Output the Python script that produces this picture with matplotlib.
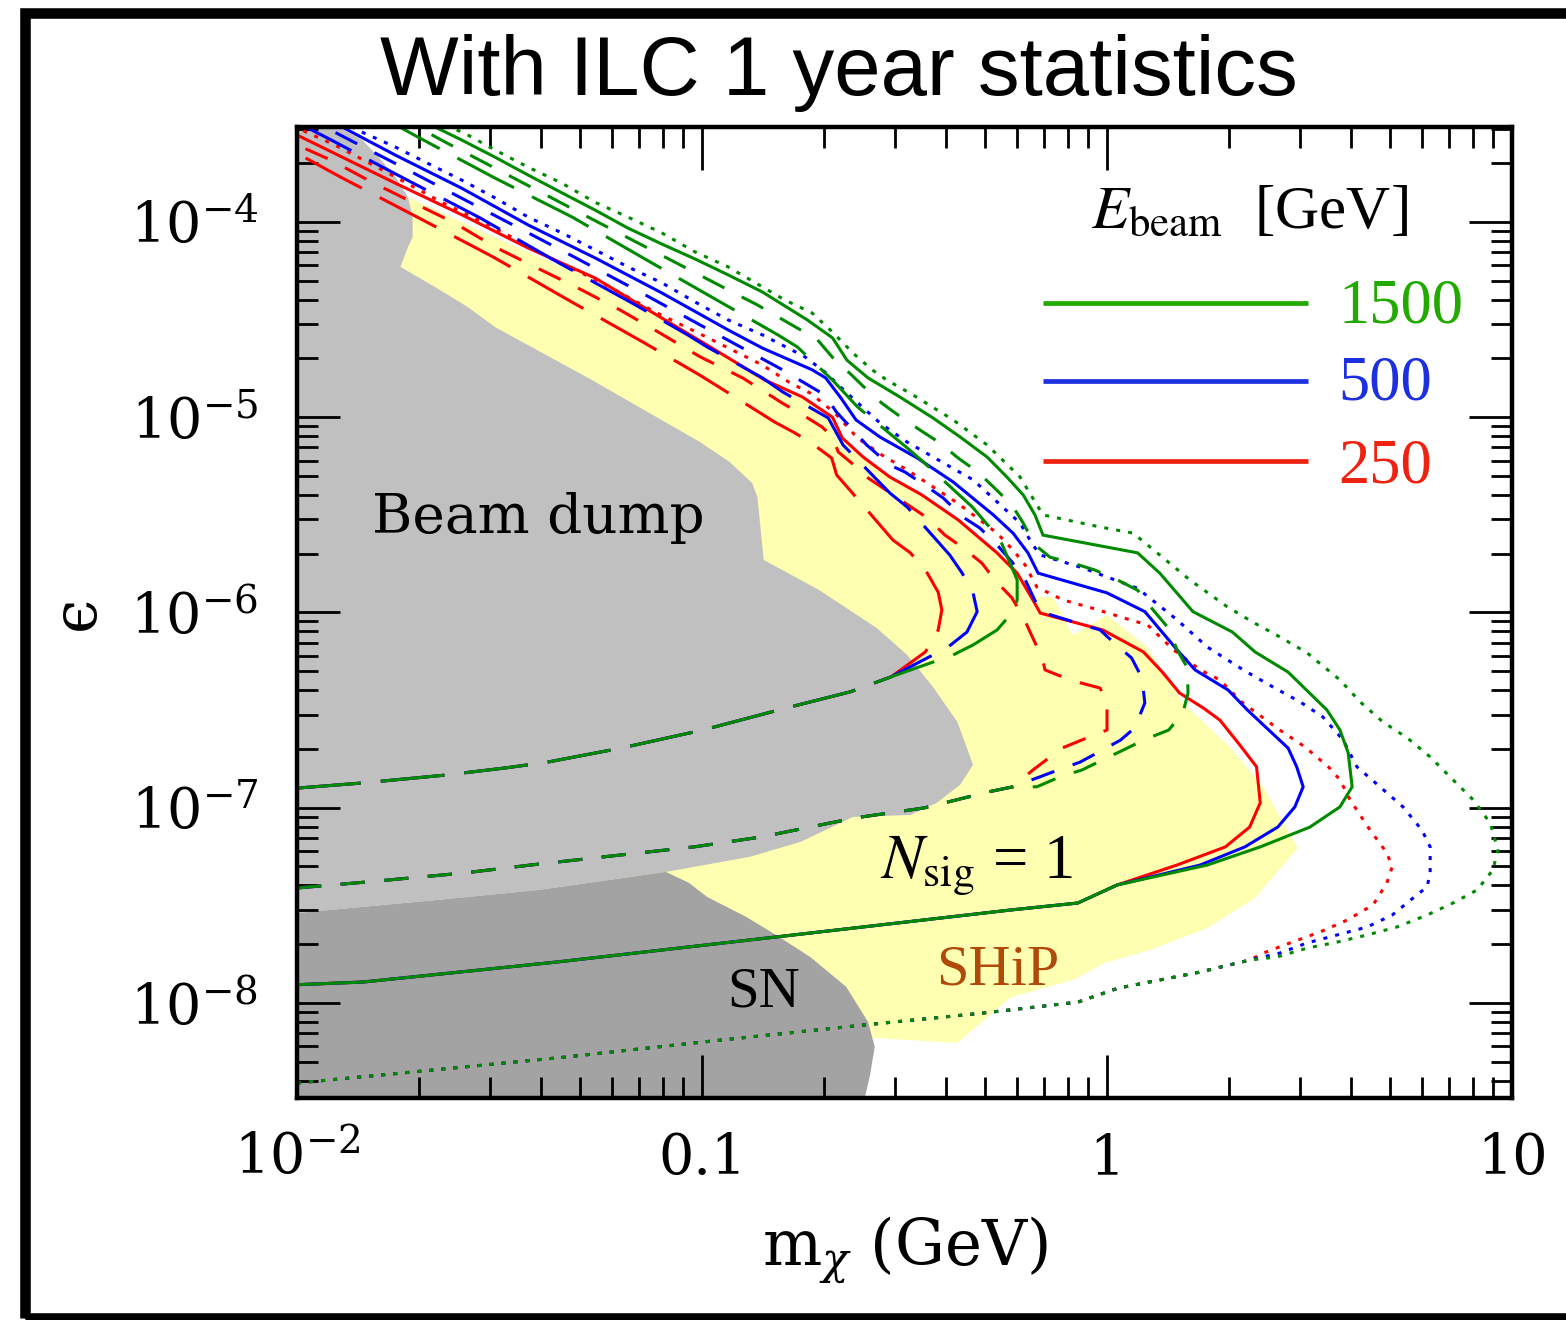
import matplotlib
matplotlib.use("Agg")
import matplotlib.pyplot as plt
from matplotlib.patches import Polygon, Rectangle
from matplotlib.ticker import FixedLocator, FixedFormatter, LogLocator, NullFormatter

plt.rcParams['font.family'] = 'DejaVu Serif'
plt.rcParams['mathtext.fontset'] = 'dejavuserif'
plt.rcParams['lines.scale_dashes'] = False

# ---- excluded regions (m in GeV, epsilon) ----
beam_dump_m = [0.0126, 0.0145, 0.0159, 0.0175, 0.0188, 0.0193, 0.0193, 0.0188, 0.0180, 0.0219,
               0.0264, 0.0308, 0.0535, 0.0989, 0.117, 0.133, 0.137, 0.142, 0.195, 0.270,
               0.321, 0.372, 0.427, 0.467, 0.434, 0.380, 0.327, 0.236, 0.175, 0.131,
               0.0815, 0.0394, 0.0222, 0.0100]
beam_dump_eps = [3.07e-4, 2.63e-4, 2.15e-4, 1.70e-4, 1.34e-4, 1.06e-4, 8.38e-5, 7.45e-5, 5.89e-5, 4.65e-5,
                 3.67e-5, 2.90e-5, 1.55e-5, 7.46e-6, 5.90e-6, 4.60e-6, 3.91e-6, 1.86e-6, 1.30e-6, 8.33e-7,
                 6.06e-7, 4.15e-7, 2.75e-7, 1.66e-7, 1.31e-7, 1.06e-7, 9.18e-8, 8.97e-8, 6.68e-8, 5.60e-8,
                 4.69e-8, 3.79e-8, 3.37e-8, 2.89e-8]

sn_m = [0.0100, 0.0222, 0.0394, 0.0815, 0.0929, 0.103, 0.129, 0.155, 0.185, 0.227, 0.257, 0.267, 0.260, 0.250]
sn_eps = [2.89e-8, 3.37e-8, 3.79e-8, 4.69e-8, 4.12e-8, 3.49e-8, 2.75e-8, 2.18e-8, 1.72e-8, 1.21e-8,
          8.00e-9, 5.96e-9, 4.28e-9, 3.0e-9]

ship_m = [0.0185, 0.0255, 0.0372, 0.0545, 0.0796, 0.103, 0.143, 0.177, 0.210, 0.222,
          0.250, 0.291, 0.349, 0.429, 0.535, 0.610, 0.656, 0.736, 0.824, 1.00,
          1.256, 1.54, 2.01, 2.43, 2.96, 2.32, 1.77, 1.277, 0.984, 0.824,
          0.579, 0.427, 0.263, 0.232, 0.0815, 0.0560, 0.0317, 0.0170]
ship_eps = [1.37e-4, 1.00e-4, 7.02e-5, 5.05e-5, 3.22e-5, 2.29e-5, 1.52e-5, 1.24e-5, 9.80e-6, 7.64e-6,
            6.11e-6, 4.83e-6, 3.91e-6, 2.91e-6, 2.04e-6, 1.59e-6, 1.20e-6, 1.20e-6, 7.67e-7, 9.71e-7,
            6.65e-7, 3.44e-7, 2.05e-7, 1.28e-7, 6.22e-8, 3.45e-8, 2.42e-8, 1.87e-8, 1.60e-8, 1.31e-8,
            1.07e-8, 6.24e-9, 6.62e-9, 1.02e-8, 3.79e-8, 4.80e-8, 3.75e-6, 7.19e-5]

# ---- N_sig = 1 contours ----
# lower edges are common to the three beam energies, the rest splits by energy
dot_low_m = [0.0100, 0.0195, 0.0459, 0.1005, 0.251, 0.497, 0.847, 1.064, 1.698, 2.254]
dot_low_eps = [3.89e-9, 4.44e-9, 5.28e-9, 6.31e-9, 7.71e-9, 8.89e-9, 1.01e-8, 1.19e-8, 1.44e-8, 1.66e-8]

red_dot_m = [2.43, 2.83, 3.36, 3.92, 4.54, 4.91, 5.06, 4.91, 4.65, 4.41,
             3.98, 3.76, 3.52, 3.08, 2.67, 2.15, 1.90, 1.70, 1.46, 1.26,
             1.10, 0.923, 0.778, 0.671, 0.628, 0.586, 0.535, 0.478, 0.427, 0.372,
             0.321, 0.278, 0.242, 0.213, 0.185, 0.165, 0.141, 0.1035, 0.0766, 0.0566,
             0.0417, 0.0308, 0.0228, 0.0168, 0.0124, 0.0100]
red_dot_eps = [1.80e-8, 2.03e-8, 2.31e-8, 2.66e-8, 3.18e-8, 4.12e-8, 4.98e-8, 5.86e-8, 6.84e-8, 7.96e-8,
               1.10e-7, 1.39e-7, 1.62e-7, 2.05e-7, 2.50e-7, 3.48e-7, 4.51e-7, 5.08e-7, 6.43e-7, 8.63e-7,
               9.38e-7, 1.05e-6, 1.16e-6, 1.35e-6, 1.75e-6, 2.09e-6, 2.55e-6, 3.05e-6, 3.64e-6, 4.40e-6,
               5.37e-6, 6.41e-6, 7.83e-6, 1.05e-5, 1.33e-5, 1.50e-5, 1.85e-5, 2.55e-5, 3.46e-5, 4.88e-5,
               6.62e-5, 9.31e-5, 1.26e-4, 1.78e-4, 2.48e-4, 3.03e-4]

blue_dot_m = [2.67, 3.12, 3.70, 4.39, 5.06, 5.70, 6.17, 6.28, 6.28, 5.99,
              5.38, 4.72, 4.14, 3.83, 3.41, 3.00, 2.57, 2.17, 1.77, 1.49,
              1.19, 1.00, 0.873, 0.684, 0.656, 0.610, 0.545, 0.467, 0.403, 0.321,
              0.275, 0.228, 0.202, 0.1795, 0.141, 0.116, 0.0962, 0.0796, 0.0656, 0.0545,
              0.0451, 0.0372, 0.0308, 0.0255, 0.0210, 0.0175, 0.01445, 0.01368]
blue_dot_eps = [1.80e-8, 2.03e-8, 2.23e-8, 2.45e-8, 2.82e-8, 3.45e-8, 3.93e-8, 4.63e-8, 6.30e-8, 7.69e-8,
                1.01e-7, 1.28e-7, 1.62e-7, 2.22e-7, 2.92e-7, 3.48e-7, 4.15e-7, 5.08e-7, 6.65e-7, 9.16e-7,
                1.33e-6, 1.52e-6, 1.69e-6, 1.97e-6, 2.22e-6, 2.87e-6, 3.56e-6, 4.78e-6, 5.69e-6, 7.46e-6,
                9.35e-6, 1.33e-5, 1.69e-5, 2.04e-5, 2.64e-5, 3.15e-5, 3.89e-5, 4.88e-5, 5.89e-5, 7.19e-5,
                8.79e-5, 1.06e-4, 1.33e-4, 1.64e-4, 2.00e-4, 2.42e-4, 2.89e-4, 3.07e-4]

green_dot_m = [2.63, 3.12, 3.70, 4.39, 5.20, 6.17, 7.15, 8.20, 8.97, 9.23,
               8.83, 8.01, 7.15, 6.28, 5.51, 4.80, 4.22, 3.76, 3.12, 2.67,
               2.29, 1.98, 1.60, 1.33, 1.16, 0.962, 0.695, 0.671, 0.610, 0.506,
               0.417, 0.332, 0.286, 0.263, 0.236, 0.210, 0.187, 0.160, 0.141, 0.116,
               0.0962, 0.0796, 0.0656, 0.0545, 0.0451, 0.0372, 0.0308, 0.0264, 0.0239]
green_dot_eps = [1.72e-8, 1.91e-8, 2.05e-8, 2.23e-8, 2.45e-8, 2.82e-8, 3.25e-8, 3.79e-8, 4.80e-8, 6.08e-8,
                 8.36e-8, 1.10e-7, 1.39e-7, 1.82e-7, 2.28e-7, 2.75e-7, 3.48e-7, 4.51e-7, 6.21e-7, 7.50e-7,
                 8.93e-7, 1.07e-6, 1.47e-6, 2.02e-6, 2.55e-6, 2.74e-6, 3.16e-6, 3.56e-6, 4.94e-6, 7.21e-6,
                 9.69e-6, 1.30e-5, 1.55e-5, 1.75e-5, 2.13e-5, 2.73e-5, 3.42e-5, 3.99e-5, 4.65e-5, 5.89e-5,
                 7.02e-5, 8.79e-5, 1.06e-4, 1.26e-4, 1.58e-4, 1.91e-4, 2.34e-4, 2.79e-4, 3.07e-4]

solid_low_m = [0.0100, 0.01456, 0.0437, 0.153, 0.575, 0.847, 1.059]
solid_low_eps = [1.24e-8, 1.28e-8, 1.62e-8, 2.18e-8, 2.99e-8, 3.25e-8, 4.02e-8]

red_solid_m = [1.49, 1.96, 2.25, 2.39, 2.34, 2.13, 1.90, 1.73, 1.51, 1.37,
               1.23, 0.977, 0.684, 0.656, 0.600, 0.535, 0.429, 0.349, 0.291, 0.250,
               0.222, 0.210, 0.177, 0.143, 0.103, 0.0796, 0.0545, 0.0372, 0.0255, 0.0175, 0.0100]
red_solid_eps = [5.09e-8, 6.30e-8, 7.96e-8, 1.06e-7, 1.62e-7, 2.09e-7, 2.81e-7, 3.24e-7, 3.87e-7, 4.95e-7,
                 6.28e-7, 8.13e-7, 9.93e-7, 1.16e-6, 1.59e-6, 2.02e-6, 2.98e-6, 4.00e-6, 4.94e-6, 6.25e-6,
                 7.83e-6, 1.00e-5, 1.27e-5, 1.55e-5, 2.34e-5, 3.22e-5, 5.16e-5, 7.36e-5, 1.09e-4, 1.58e-4, 2.79e-4]

blue_solid_m = [1.70, 2.19, 2.64, 2.91, 3.05, 2.94, 2.80, 2.22, 1.99, 1.65,
                1.49, 1.24, 1.00, 0.676, 0.638, 0.586, 0.524, 0.417, 0.340, 0.275,
                0.240, 0.220, 0.202, 0.187, 0.141, 0.116, 0.0796, 0.0545, 0.0372, 0.0255,
                0.0175, 0.0129]
blue_solid_eps = [5.09e-8, 6.30e-8, 7.96e-8, 1.01e-7, 1.28e-7, 1.62e-7, 2.02e-7, 3.17e-7, 4.01e-7, 5.08e-7,
                  6.43e-7, 1.01e-6, 1.26e-6, 1.59e-6, 2.02e-6, 2.55e-6, 3.16e-6, 4.66e-6, 6.18e-6, 7.92e-6,
                  9.69e-6, 1.26e-5, 1.59e-5, 1.75e-5, 2.26e-5, 2.80e-5, 4.33e-5, 6.54e-5, 9.66e-5, 1.49e-4,
                  2.20e-4, 3.07e-4]

green_solid_m = [1.77, 2.39, 3.17, 3.76, 4.03, 3.94, 3.76, 3.49, 2.80, 2.32,
                 2.04, 1.63, 1.35, 1.19, 0.695, 0.664, 0.621, 0.566, 0.506, 0.434,
                 0.372, 0.308, 0.257, 0.228, 0.210, 0.182, 0.141, 0.116, 0.0962, 0.0796,
                 0.0656, 0.0545, 0.0451, 0.0372, 0.0308, 0.0255, 0.0219]
green_solid_eps = [5.09e-8, 6.30e-8, 7.96e-8, 1.01e-7, 1.28e-7, 1.91e-7, 2.50e-7, 3.17e-7, 4.95e-7, 6.28e-7,
                   7.94e-7, 1.01e-6, 1.59e-6, 2.02e-6, 2.49e-6, 3.16e-6, 4.00e-6, 4.94e-6, 6.25e-6, 7.92e-6,
                   9.91e-6, 1.27e-5, 1.59e-5, 1.96e-5, 2.55e-5, 3.15e-5, 4.38e-5, 5.36e-5, 6.46e-5, 7.71e-5,
                   9.31e-5, 1.15e-4, 1.41e-4, 1.74e-4, 2.15e-4, 2.63e-4, 3.07e-4]

sdash_low_m = [0.0100, 0.01496, 0.0258, 0.0378, 0.0631, 0.0955, 0.140, 0.239, 0.353, 0.514, 0.586]
sdash_low_eps = [3.88e-8, 4.17e-8, 4.63e-8, 5.09e-8, 5.73e-8, 6.30e-8, 7.08e-8, 8.87e-8, 9.97e-8, 1.21e-7, 1.28e-7]

red_sdash_m = [0.656, 0.774, 0.893, 1.00, 1.00, 0.962, 0.843, 0.754, 0.703, 0.692,
               0.656, 0.621, 0.582, 0.528, 0.491, 0.439, 0.398, 0.360, 0.255, 0.234,
               0.217, 0.210, 0.198, 0.177, 0.158, 0.126, 0.0989, 0.0787, 0.0628, 0.0494,
               0.0392, 0.0308, 0.0245, 0.0193, 0.0153, 0.0121, 0.0100]
red_sdash_eps = [1.56e-7, 2.02e-7, 2.28e-7, 2.50e-7, 3.36e-7, 4.10e-7, 4.41e-7, 4.79e-7, 5.08e-7, 5.85e-7,
                 7.40e-7, 9.48e-7, 1.19e-6, 1.47e-6, 1.79e-6, 2.16e-6, 2.49e-6, 3.05e-6, 4.94e-6, 5.83e-6,
                 6.64e-6, 7.92e-6, 8.91e-6, 1.03e-5, 1.18e-5, 1.59e-5, 2.04e-5, 2.70e-5, 3.54e-5, 4.59e-5,
                 5.81e-5, 7.45e-5, 9.88e-5, 1.26e-4, 1.60e-4, 2.08e-4, 2.48e-4]

blue_sdash_m = [0.671, 0.757, 0.857, 0.977, 1.08, 1.17, 1.24, 1.22, 1.15, 1.035,
                0.962, 0.684, 0.628, 0.582, 0.535, 0.485, 0.441, 0.394, 0.360, 0.317,
                0.291, 0.255, 0.236, 0.215, 0.201, 0.177, 0.158, 0.112, 0.0703, 0.0439,
                0.0275, 0.0172, 0.0135, 0.0117]
blue_sdash_eps = [1.42e-7, 1.56e-7, 1.71e-7, 1.98e-7, 2.22e-7, 2.56e-7, 3.44e-7, 4.62e-7, 5.85e-7, 7.06e-7,
                  8.13e-7, 1.01e-6, 1.47e-6, 1.82e-6, 2.22e-6, 2.71e-6, 3.08e-6, 3.86e-6, 4.40e-6, 5.24e-6,
                  5.69e-6, 7.21e-6, 8.61e-6, 1.06e-5, 1.30e-5, 1.52e-5, 1.75e-5, 2.58e-5, 4.38e-5, 7.36e-5,
                  1.22e-4, 2.03e-4, 2.63e-4, 3.07e-4]

green_sdash_m = [0.671, 0.766, 0.867, 0.977, 1.10, 1.23, 1.42, 1.54, 1.585, 1.58,
                 1.49, 1.41, 1.30, 1.19, 1.06, 0.933, 0.824, 0.723, 0.664, 0.621,
                 0.582, 0.524, 0.480, 0.429, 0.387, 0.345, 0.312, 0.278, 0.251, 0.231,
                 0.220, 0.191, 0.172, 0.137, 0.120, 0.0528, 0.0232, 0.0198]
green_sdash_eps = [1.28e-7, 1.44e-7, 1.56e-7, 1.76e-7, 1.98e-7, 2.22e-7, 2.50e-7, 3.06e-7, 3.87e-7, 5.20e-7,
                   6.43e-7, 8.43e-7, 1.03e-6, 1.30e-6, 1.47e-6, 1.65e-6, 1.79e-6, 1.92e-6, 2.22e-6, 2.87e-6,
                   3.56e-6, 4.40e-6, 5.24e-6, 6.18e-6, 7.38e-6, 8.61e-6, 9.91e-6, 1.18e-5, 1.43e-5, 1.69e-5,
                   1.81e-5, 2.55e-5, 2.86e-5, 3.76e-5, 4.33e-5, 1.05e-4, 2.57e-4, 3.07e-4]

ldash_low_m = [0.0100, 0.01456, 0.0233, 0.0328, 0.0414, 0.0631, 0.1005, 0.165, 0.232, 0.293]
ldash_low_eps = [1.26e-7, 1.34e-7, 1.47e-7, 1.60e-7, 1.71e-7, 2.02e-7, 2.50e-7, 3.28e-7, 3.92e-7, 4.68e-7]

red_ldash_m = [0.356, 0.383, 0.391, 0.383, 0.360, 0.327, 0.296, 0.234, 0.215, 0.209,
               0.185, 0.168, 0.151, 0.110, 0.0989, 0.0714, 0.0467, 0.0305, 0.0198, 0.0128, 0.0100]
red_ldash_eps = [6.28e-7, 8.13e-7, 1.03e-6, 1.27e-6, 1.59e-6, 2.02e-6, 2.35e-6, 4.14e-6, 5.06e-6, 6.18e-6,
                 7.46e-6, 8.40e-6, 9.46e-6, 1.43e-5, 1.64e-5, 2.43e-5, 3.99e-5, 6.62e-5, 1.06e-4, 1.70e-4, 2.25e-4]

blue_ldash_m = [0.405, 0.451, 0.478, 0.467, 0.439, 0.409, 0.321, 0.291, 0.223, 0.205,
                0.158, 0.141, 0.103, 0.0922, 0.0671, 0.0439, 0.0283, 0.0183, 0.0119, 0.0105]
blue_ldash_eps = [6.65e-7, 7.94e-7, 1.01e-6, 1.26e-6, 1.59e-6, 1.97e-6, 3.47e-6, 4.09e-6, 7.21e-6, 9.91e-6,
                  1.35e-5, 1.59e-5, 2.29e-5, 2.64e-5, 3.85e-5, 6.24e-5, 1.05e-4, 1.68e-4, 2.69e-4, 3.07e-4]

green_ldash_m = [0.417, 0.467, 0.535, 0.586, 0.600, 0.600, 0.545, 0.500, 0.465, 0.352,
                 0.321, 0.242, 0.210, 0.172, 0.154, 0.112, 0.0731, 0.0478, 0.0308, 0.0199, 0.0179]
green_ldash_eps = [6.06e-7, 6.82e-7, 8.13e-7, 1.01e-6, 1.16e-6, 1.47e-6, 2.35e-6, 2.91e-6, 3.47e-6, 5.90e-6,
                   6.97e-6, 1.13e-5, 1.55e-5, 2.29e-5, 2.64e-5, 3.85e-5, 6.38e-5, 1.06e-4, 1.68e-4, 2.72e-4, 3.07e-4]

beam_energies = ['1500', '500', '250']
x_tick_vals = [0.01, 0.1, 1, 10]
x_tick_labels = [r'$10^{-2}$', '0.1', '1', '10']
y_tick_vals = [1e-8, 1e-7, 1e-6, 1e-5, 1e-4]
y_tick_labels = [r'$10^{-8}$', r'$10^{-7}$', r'$10^{-6}$', r'$10^{-5}$', r'$10^{-4}$']

line_col = {'red': '#ff0000', 'blue': '#0000ff', 'green': '#008a00'}
key_col = {'1500': '#22aa00', '500': '#1c30e0', '250': '#ee2211'}

fig = plt.figure(figsize=(15.66, 13.2), dpi=100)
ax = fig.add_axes([0.18966, 0.16818, 0.77586, 0.73561])
ax.set_xscale('log')
ax.set_yscale('log')
ax.set_xlim(0.01, 10)
ax.set_ylim(3.26e-9, 3.066e-4)

# shaded regions: SHiP below, beam dump and supernova on top
ax.add_patch(Polygon(list(zip(ship_m, ship_eps)), closed=True, fc='#ffffb2', ec='none', zorder=1))
bd = [(0.005, 1e-3), (0.0126, 1e-3)] + list(zip(beam_dump_m, beam_dump_eps)) + [(0.005, 2.89e-8)]
ax.add_patch(Polygon(bd, closed=True, fc='#c0c0c0', ec='none', zorder=1.05))
sn = [(0.005, 2.89e-8)] + list(zip(sn_m, sn_eps)) + [(0.250, 1e-9), (0.005, 1e-9)]
ax.add_patch(Polygon(sn, closed=True, fc='#a3a3a3', ec='none', zorder=1.1))

dotted = (0, (2.9, 5.8))
short_dash = (0, (17.5, 14.0))
long_dash = (0, (46.0, 14.5))

curves = [
    ('red', dot_low_m, dot_low_eps, red_dot_m, red_dot_eps, dotted),
    ('red', solid_low_m, solid_low_eps, red_solid_m, red_solid_eps, '-'),
    ('red', sdash_low_m, sdash_low_eps, red_sdash_m, red_sdash_eps, short_dash),
    ('red', ldash_low_m, ldash_low_eps, red_ldash_m, red_ldash_eps, long_dash),
    ('blue', dot_low_m, dot_low_eps, blue_dot_m, blue_dot_eps, dotted),
    ('blue', solid_low_m, solid_low_eps, blue_solid_m, blue_solid_eps, '-'),
    ('blue', sdash_low_m, sdash_low_eps, blue_sdash_m, blue_sdash_eps, short_dash),
    ('blue', ldash_low_m, ldash_low_eps, blue_ldash_m, blue_ldash_eps, long_dash),
    ('green', dot_low_m, dot_low_eps, green_dot_m, green_dot_eps, dotted),
    ('green', solid_low_m, solid_low_eps, green_solid_m, green_solid_eps, '-'),
    ('green', sdash_low_m, sdash_low_eps, green_sdash_m, green_sdash_eps, short_dash),
    ('green', ldash_low_m, ldash_low_eps, green_ldash_m, green_ldash_eps, long_dash),
]
for col, lm, le, um, ue, ls in curves:
    ax.plot(lm + um, le + ue, color=line_col[col], lw=2.2, linestyle=ls,
            dash_capstyle='butt', solid_joinstyle='miter', zorder=2)

# axes, ticks
for sp in ax.spines.values():
    sp.set_linewidth(3.2)
ax.xaxis.set_major_locator(FixedLocator(x_tick_vals))
ax.xaxis.set_major_formatter(FixedFormatter(x_tick_labels))
ax.yaxis.set_major_locator(FixedLocator(y_tick_vals))
ax.yaxis.set_major_formatter(FixedFormatter(y_tick_labels))
ax.xaxis.set_minor_locator(LogLocator(base=10, subs=range(2, 10), numticks=30))
ax.yaxis.set_minor_locator(LogLocator(base=10, subs=range(2, 10), numticks=30))
ax.xaxis.set_minor_formatter(NullFormatter())
ax.yaxis.set_minor_formatter(NullFormatter())
ax.tick_params(which='both', direction='in', top=True, right=True, width=2.0)
ax.tick_params(which='major', length=31, labelsize=40)
ax.tick_params(which='minor', length=15)
ax.tick_params(axis='x', which='major', pad=24)
ax.tick_params(axis='y', which='major', pad=28)

ax.text(0.5, -0.12, r'm$_{\chi}$ (GeV)', transform=ax.transAxes, ha='center', va='top', fontsize=45)
ax.text(-0.181, 0.5, '\u03f5', transform=ax.transAxes, ha='center', va='center',
        rotation=90, fontsize=44)

fig.text(0.5358, 0.928, 'With ILC 1 year statistics', ha='center', va='baseline',
         fontfamily='Liberation Sans', fontsize=60)

# region labels
ax.text(0.0617, 0.5819, 'Beam dump', transform=ax.transAxes, ha='left', va='baseline',
        fontsize=39.5, zorder=3)
ax.text(0.354, 0.0947, 'SN', transform=ax.transAxes, ha='left', va='baseline',
        fontfamily='Liberation Serif', fontsize=41, zorder=3)
ax.text(0.526, 0.1164, 'SHiP', transform=ax.transAxes, ha='left', va='baseline',
        fontfamily='Liberation Serif', fontsize=42, color='#b04a0a', zorder=3)
ax.text(0.480, 0.2266, r'$N_{\rm sig}$ = 1', transform=ax.transAxes, ha='left', va='baseline',
        fontfamily='Liberation Serif', math_fontfamily='stix', fontsize=45, zorder=3)

# beam energy key
ax.text(0.6535, 0.896, r'$E_{\rm beam}$  [GeV]', transform=ax.transAxes, ha='left', va='baseline',
        fontfamily='Liberation Serif', math_fontfamily='stix', fontsize=44)
key_y = [0.819, 0.7387, 0.656]
key_text_y = [0.799, 0.719, 0.634]
for e, yl, yt in zip(beam_energies, key_y, key_text_y):
    ax.plot([0.614, 0.832], [yl, yl], transform=ax.transAxes, color=key_col[e], lw=3.4,
            solid_capstyle='butt', zorder=3)
    ax.text(0.857, yt, e, transform=ax.transAxes, ha='left', va='baseline',
            fontfamily='Liberation Serif', fontsize=45, color=key_col[e])

# outer frame
fig.add_artist(Rectangle((0.01565, 0.0015), 1.0, 0.98865, transform=fig.transFigure,
                         fill=False, ec='black', lw=7.6, clip_on=False))

fig.savefig('out.png', dpi=100)
